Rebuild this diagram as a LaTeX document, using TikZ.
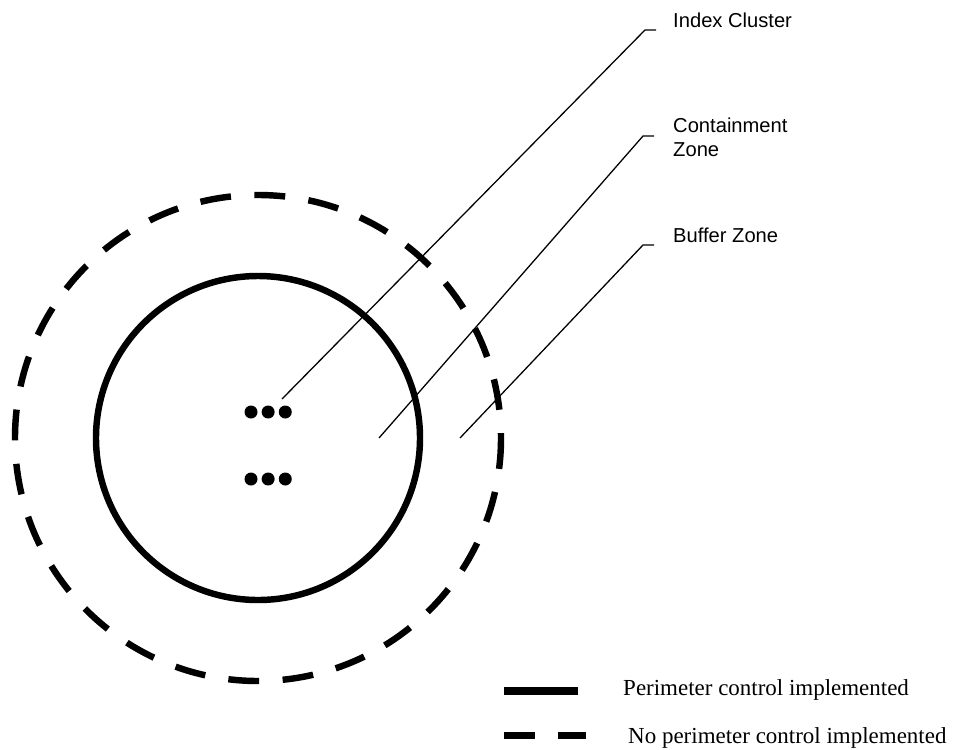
\documentclass[tikz,border=0pt]{standalone}
\usepackage{fontspec}
\setmainfont{Liberation Serif}
\newfontfamily\labelfont{Liberation Sans}
\usetikzlibrary{positioning}

\begin{document}
\begin{tikzpicture}[x=0.03cm,y=-0.03cm,
  zone/.style={line width=5.5pt},
  nozone/.style={line width=5.5pt,dash pattern=on 26.4pt off 20pt},
  lead/.style={line width=1.1pt},
  lbl/.style={font=\labelfont\fontsize{17.2}{20}\selectfont,inner sep=0pt,
              anchor=base west,align=left},
  key/.style={font=\fontsize{19.6}{22}\selectfont,inner sep=0pt,anchor=base west},
  case/.style={circle,fill=black,inner sep=0pt,minimum size=0.39cm},
  node distance=0.11cm
]
\useasboundingbox (0,0) rectangle (954,749);
% zones
\coordinate (ctr) at (258,438);
\draw[zone] (ctr) circle (162);
\draw[nozone] (ctr) circle (243);
% index cluster
\node[case] (c1) at (251,412) {};
\node[case,right=of c1] (c2) {};
\node[case,right=of c2] (c3) {};
\node[case] (c4) at (251,479) {};
\node[case,right=of c4] (c5) {};
\node[case,right=of c5] (c6) {};
% labels
\node[lbl] (idx) at (673,27) {Index Cluster};
\node[lbl] (cont) at (673,156) {Containment\\Zone};
\node[lbl] (buf) at (673,242) {Buffer Zone};
\coordinate (idxpt) at (282,399);
\coordinate (idxknee) at (645,30);
\coordinate (contpt) at (379,438);
\coordinate (contknee) at (643,136);
\coordinate (bufpt) at (460,438);
\coordinate (bufknee) at (643,245);
\draw[lead] (idxpt)--(idxknee)--++(11,0);
\draw[lead] (contpt)--(contknee)--++(11,0);
\draw[lead] (bufpt)--(bufknee)--++(11,0);
% legend
\coordinate (k1) at (504,691);
\coordinate (k2) at (504,735.5);
\draw[zone,line width=6pt] (k1)--++(74,0);
\draw[nozone,line width=6pt] (k2)--++(82,0);
\node[key] (ktxt1) at (623,695) {Perimeter control implemented};
\node[key] (ktxt2) at (628,743) {No perimeter control implemented};
\end{tikzpicture}
\end{document}
